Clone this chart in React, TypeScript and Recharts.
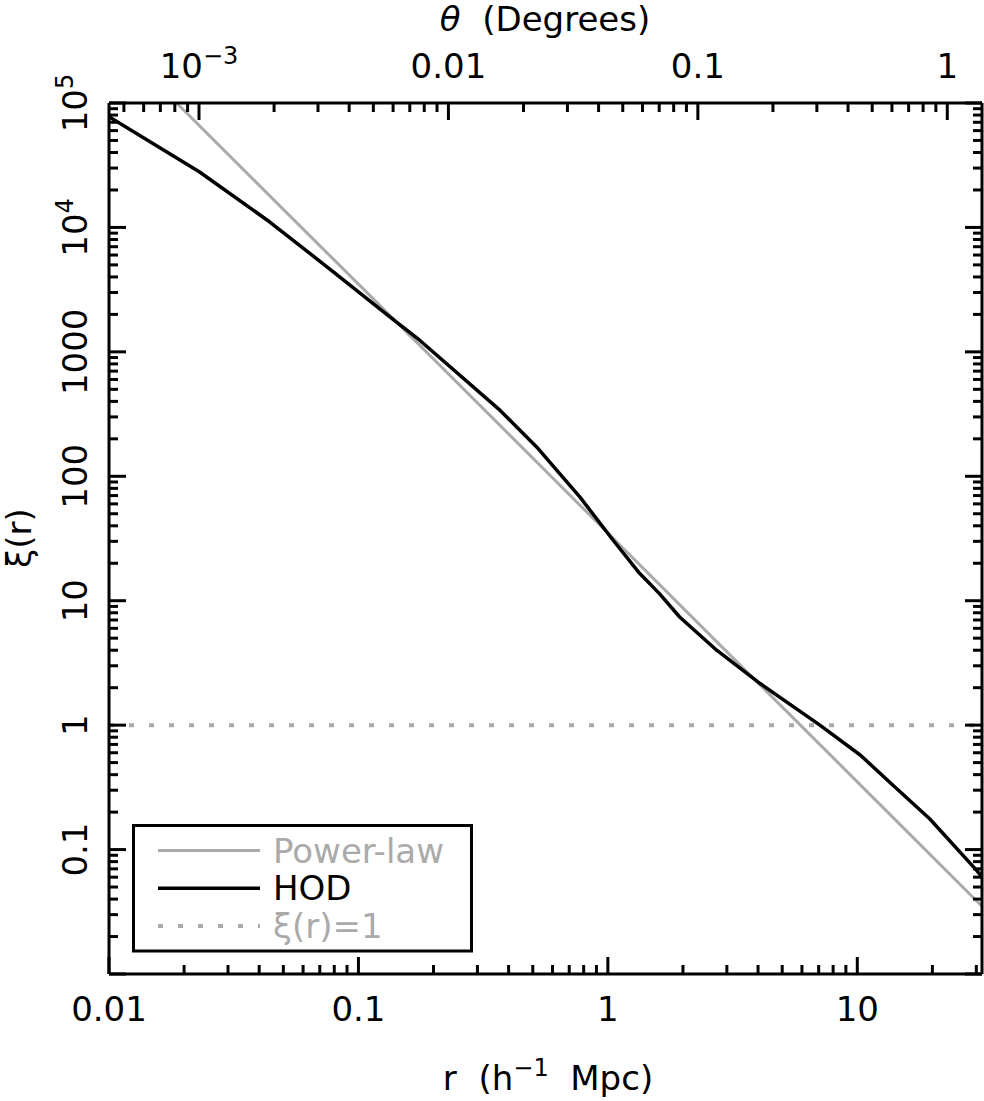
import React from 'react';
import { LineChart, Line, XAxis, YAxis, Legend } from 'recharts';

const FONT = '"DejaVu Sans", sans-serif';
const GRAY = '#aaaaaa';
const MAJOR = 17;
const MINOR = 9;

// HOD model curve
const hodR = [0.01, 0.023, 0.044, 0.0793, 0.134, 0.176, 0.369, 0.518, 0.773, 1.05, 1.34, 1.61, 1.94, 2.73, 4.08, 7.08, 10.3, 13.9, 19.5, 30.1, 31.62];
const hodXi = [77500, 28000, 11100, 4400, 1900, 1240, 340, 172, 68, 30.6, 16.6, 11.4, 7.4, 4.0, 2.16, 1.0, 0.573, 0.329, 0.177, 0.068, 0.06];

// power-law fit
const powerR = [0.01867, 0.1, 1, 10, 31.62];
const powerXi = [100000, 3500, 35, 0.35, 0.035];

// xi(r) = 1 reference
const unityR = [0.01, 31.62];
const unityXi = [1, 1];

const legendOrder = ['Power-law', 'HOD', 'ξ(r)=1'];

const rDomain = [0.01, 31.62];
const thetaDomain = [0.0004357, 1.3778];
const xiDomain = [0.01, 100000];

const rMajor = [0.01, 0.1, 1, 10];
const rLabels = ['0.01', '0.1', '1', '10'];
const thetaMajor = [0.001, 0.01, 0.1, 1];
const thetaLabels = ['10^-3', '0.01', '0.1', '1'];
const xiMajor = [0.1, 1, 10, 100, 1000, 10000, 100000];
const xiLabels = ['0.1', '1', '10', '100', '1000', '10^4', '10^5'];

function logTicks(lo: number, hi: number, dom: number[]) {
  const out: number[] = [];
  for (let e = lo; e <= hi; e++) {
    for (let m = 1; m < 10; m++) {
      const v = +(m * Math.pow(10, e)).toPrecision(3);
      if (v >= dom[0] * 0.9999 && v <= dom[1] * 1.0001) out.push(v);
    }
  }
  return out;
}

const rTicks = logTicks(-2, 1, rDomain);
const thetaTicks = logTicks(-4, 0, thetaDomain);
const xiTicks = logTicks(-2, 5, xiDomain);

const hodData = hodR.map((r, i) => ({ r, xi: hodXi[i] }));
const powerData = powerR.map((r, i) => ({ r, xi: powerXi[i] }));
const unityData = unityR.map((r, i) => ({ r, xi: unityXi[i] }));
// invisible anchor so the angle axis gets its scale
const thetaAnchor = thetaDomain.map((theta) => ({ theta, xi: 1 }));

const isMajor = (v: number) => Math.abs(Math.log10(v) - Math.round(Math.log10(v))) < 1e-6;
const findLabel = (v: number, majors: number[], labels: string[]) => {
  const i = majors.findIndex((m) => Math.abs(m - v) / m < 1e-4);
  return i >= 0 ? labels[i] : null;
};

function renderLabel(label: string) {
  const [base, sup] = label.split('^');
  if (!sup) return label;
  return [
    <tspan key="b">{base}</tspan>,
    <tspan key="s" dy={-14} fontSize={24}>{sup.replace('-', '−')}</tspan>,
  ];
}

const BottomTick = (props: any) => {
  const { x, y, payload } = props;
  const v = payload.value;
  const label = findLabel(v, rMajor, rLabels);
  return (
    <g>
      <line x1={x} x2={x} y1={y} y2={y - (isMajor(v) ? MAJOR : MINOR)} stroke="#000" strokeWidth={3} />
      {label && (
        <text x={x} y={y + 47} textAnchor="middle" fontSize={34} fontFamily={FONT} fill="#000">
          {renderLabel(label)}
        </text>
      )}
    </g>
  );
};

const TopTick = (props: any) => {
  const { x, y, payload } = props;
  const v = payload.value;
  const label = findLabel(v, thetaMajor, thetaLabels);
  return (
    <g>
      <line x1={x} x2={x} y1={y} y2={y + (isMajor(v) ? MAJOR : MINOR)} stroke="#000" strokeWidth={3} />
      {label && (
        <text x={x} y={y - 25} textAnchor="middle" fontSize={34} fontFamily={FONT} fill="#000">
          {renderLabel(label)}
        </text>
      )}
    </g>
  );
};

const LeftTick = (props: any) => {
  const { x, y, payload } = props;
  const v = payload.value;
  const label = findLabel(v, xiMajor, xiLabels);
  const bx = x - 22;
  return (
    <g>
      <line x1={x} x2={x + (isMajor(v) ? MAJOR : MINOR)} y1={y} y2={y} stroke="#000" strokeWidth={3} />
      {label && (
        <text x={bx} y={y} transform={`rotate(-90 ${bx} ${y})`} textAnchor="middle" fontSize={34} fontFamily={FONT} fill="#000">
          {renderLabel(label)}
        </text>
      )}
    </g>
  );
};

const RightTick = (props: any) => {
  const { x, y, payload } = props;
  const v = payload.value;
  return <line x1={x} x2={x - (isMajor(v) ? MAJOR : MINOR)} y1={y} y2={y} stroke="#000" strokeWidth={3} />;
};

const renderLegend = (props: any) => {
  const items = [...(props.payload || [])]
    .filter((a: any) => legendOrder.includes(a.value))
    .sort((a: any, b: any) => legendOrder.indexOf(a.value) - legendOrder.indexOf(b.value));
  return (
    <svg width={342} height={130} style={{ display: 'block' }}>
      <rect x={1.5} y={1.5} width={338} height={125.5} fill="#fff" stroke="#000" strokeWidth={3} />
      {items.map((entry: any, i: number) => {
        const ly = 26.5 + i * 37.7;
        return (
          <g key={entry.value}>
            <line
              x1={26}
              x2={128}
              y1={ly}
              y2={ly}
              stroke={entry.color}
              strokeWidth={entry.payload?.strokeWidth || 3}
              strokeDasharray={entry.payload?.strokeDasharray}
            />
            <text x={141} y={ly + 12} fontSize={34} fontFamily={FONT} fill={entry.color}>
              {entry.value}
            </text>
          </g>
        );
      })}
    </svg>
  );
};

export default function App() {
  return (
    <div style={{ width: 984, height: 1101, background: '#fff' }}>
      <style>{'body{margin:0;background:#fff}'}</style>
      <LineChart width={984} height={1101} margin={{ top: 0, right: 0, bottom: 0, left: 0 }}>
        <XAxis
          xAxisId="bottom"
          dataKey="r"
          type="number"
          scale="log"
          domain={rDomain}
          allowDataOverflow
          ticks={rTicks}
          interval={0}
          height={127}
          tickSize={0}
          tickMargin={0}
          tickLine={false}
          axisLine={{ stroke: '#000', strokeWidth: 3 }}
          tick={<BottomTick />}
          label={{
            content: () => (
              <text x={548} y={1090} textAnchor="middle" fontSize={34} fontFamily={FONT} fill="#000" style={{ whiteSpace: 'pre' }}>
                r  (h<tspan dy={-14} fontSize={24}>−1</tspan>
                <tspan dy={14}>  Mpc)</tspan>
              </text>
            ),
          }}
        />
        <XAxis
          xAxisId="top"
          dataKey="theta"
          orientation="top"
          type="number"
          scale="log"
          domain={thetaDomain}
          allowDataOverflow
          ticks={thetaTicks}
          interval={0}
          height={103}
          tickSize={0}
          tickMargin={0}
          tickLine={false}
          axisLine={{ stroke: '#000', strokeWidth: 3 }}
          tick={<TopTick />}
          label={{
            content: () => (
              <text x={545} y={31} textAnchor="middle" fontSize={34} fontFamily={FONT} fill="#000" style={{ whiteSpace: 'pre' }}>
                <tspan fontStyle="italic">θ</tspan>  (Degrees)
              </text>
            ),
          }}
        />
        <YAxis
          yAxisId="left"
          type="number"
          scale="log"
          domain={xiDomain}
          allowDataOverflow
          ticks={xiTicks}
          interval={0}
          width={109}
          tickSize={0}
          tickMargin={0}
          tickLine={false}
          axisLine={{ stroke: '#000', strokeWidth: 3 }}
          tick={<LeftTick />}
          label={{
            content: () => (
              <text x={31} y={538} transform="rotate(-90 31 538)" textAnchor="middle" fontSize={34} fontFamily={FONT} fill="#000">
                ξ(r)
              </text>
            ),
          }}
        />
        <YAxis
          yAxisId="right"
          orientation="right"
          type="number"
          scale="log"
          domain={xiDomain}
          allowDataOverflow
          ticks={xiTicks}
          interval={0}
          width={2}
          tickSize={0}
          tickMargin={0}
          tickLine={false}
          axisLine={{ stroke: '#000', strokeWidth: 3 }}
          tick={<RightTick />}
        />
        <Legend
          layout="horizontal"
          verticalAlign="middle"
          align="center"
          wrapperStyle={{ left: 132, top: 823.5, width: 342, height: 130 }}
          content={renderLegend}
        />
        <Line
          xAxisId="top"
          yAxisId="right"
          data={thetaAnchor}
          dataKey="xi"
          name="anchor"
          stroke="none"
          strokeWidth={0}
          legendType="none"
          dot={false}
          isAnimationActive={false}
        />
        <Line
          xAxisId="bottom"
          yAxisId="left"
          data={unityData}
          dataKey="xi"
          name="ξ(r)=1"
          stroke={GRAY}
          strokeWidth={4}
          strokeDasharray="5 15"
          dot={false}
          isAnimationActive={false}
        />
        <Line
          xAxisId="bottom"
          yAxisId="left"
          data={powerData}
          dataKey="xi"
          name="Power-law"
          type="linear"
          stroke={GRAY}
          strokeWidth={3}
          dot={false}
          isAnimationActive={false}
        />
        <Line
          xAxisId="bottom"
          yAxisId="left"
          data={hodData}
          dataKey="xi"
          name="HOD"
          type="linear"
          stroke="#000"
          strokeWidth={3.5}
          strokeLinejoin="round"
          dot={false}
          isAnimationActive={false}
        />
      </LineChart>
    </div>
  );
}
